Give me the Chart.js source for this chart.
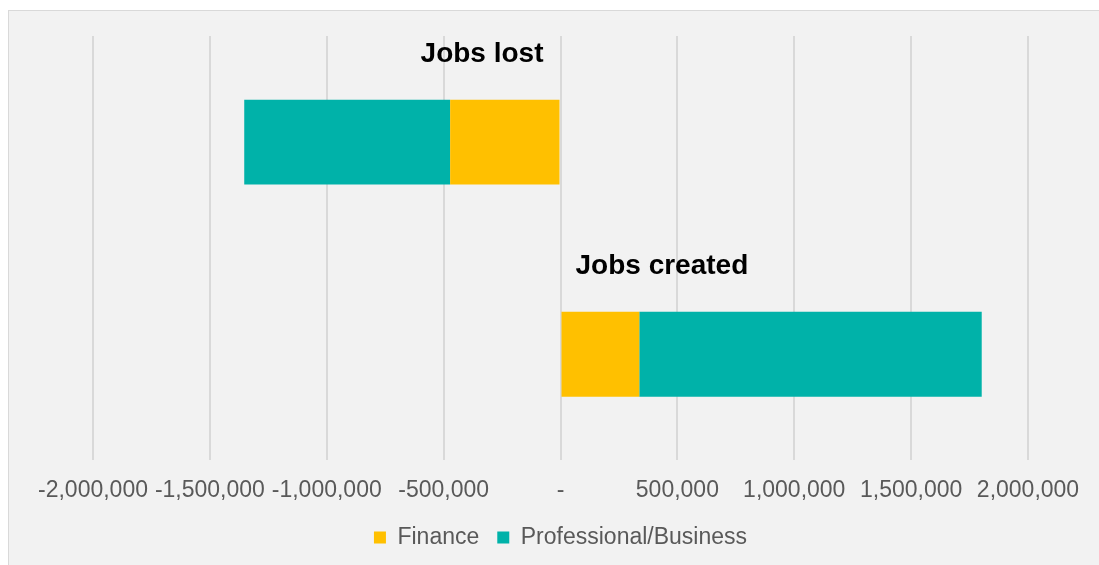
<!DOCTYPE html>
<html>
<head>
<meta charset="utf-8">
<script src="https://cdn.jsdelivr.net/npm/chart.js@4.4.1/dist/chart.umd.min.js"></script>
<style>
  html, body { margin: 0; padding: 0; background: #fff; overflow: hidden; }
  #frame {
    position: absolute; left: 8px; top: 10px; width: 1200px; height: 700px;
    background: #f2f2f2; border: 1px solid #d9d9d9;
  }
  #wrap { position: absolute; left: 0; top: 0; width: 1099px; height: 565px; }
</style>
</head>
<body>
<div id="frame"></div>
<div id="wrap"><canvas id="jobsChart"></canvas></div>
<script>
// categories & series
const categories = ['Jobs lost', 'Jobs created'];
const finance = [-472000, 337000];
const professional = [-881000, 1465000];
const xTicks = [-2000000, -1500000, -1000000, -500000, 0, 500000, 1000000, 1500000, 2000000];

// category names drawn above each bar, next to zero
const catLabels = {
  id: 'catLabels',
  afterDatasetsDraw(chart) {
    const { ctx, scales: { x, y } } = chart;
    const zero = x.getPixelForValue(0);
    ctx.save();
    ctx.font = 'bold 28px "Liberation Sans", Arial, sans-serif';
    ctx.fillStyle = '#000';
    ctx.textBaseline = 'middle';
    categories.forEach((c, i) => {
      const yy = y.getPixelForValue(i) - 88;
      const neg = finance[i] + professional[i] < 0;
      ctx.textAlign = neg ? 'right' : 'left';
      ctx.fillText(c, neg ? zero - 17 : zero + 15, yy);
    });
    ctx.restore();
  }
};

document.addEventListener('DOMContentLoaded', function() {
  const ctx = document.getElementById('jobsChart');
  new Chart(ctx, {
    type: 'bar',
    data: {
      labels: categories,
      datasets: [{
        label: 'Finance',
        data: finance,
        backgroundColor: '#ffc000',
        barPercentage: 0.4,
        categoryPercentage: 1
      }, {
        label: 'Professional/Business',
        data: professional,
        backgroundColor: '#00b2a9',
        barPercentage: 0.4,
        categoryPercentage: 1
      }]
    },
    options: {
      indexAxis: 'y',
      responsive: true,
      maintainAspectRatio: false,
      animation: false,
      layout: {
        padding: { left: 93, right: 71, top: 36, bottom: 6 }
      },
      plugins: {
        legend: {
          position: 'bottom',
          labels: {
            color: '#595959',
            boxWidth: 12,
            boxHeight: 12,
            padding: 18,
            font: { family: '"Liberation Sans", Arial, sans-serif', size: 23 }
          }
        },
        tooltip: { enabled: false }
      },
      scales: {
        x: {
          stacked: true,
          min: -2000000,
          max: 2000000,
          afterBuildTicks(axis) {
            axis.ticks = xTicks.map(v => ({ value: v }));
          },
          afterFit(axis) {
            axis.height -= 12;
          },
          ticks: {
            color: '#595959',
            padding: 16,
            maxRotation: 0,
            autoSkip: false,
            font: { family: '"Liberation Sans", Arial, sans-serif', size: 23 },
            callback: v => v === 0 ? '-' : v.toLocaleString('en-US')
          },
          grid: { color: '#d9d9d9', lineWidth: 2, drawTicks: false },
          border: { display: false }
        },
        y: {
          stacked: true,
          display: false
        }
      }
    },
    plugins: [catLabels]
  });
});
</script>
</body>
</html>
